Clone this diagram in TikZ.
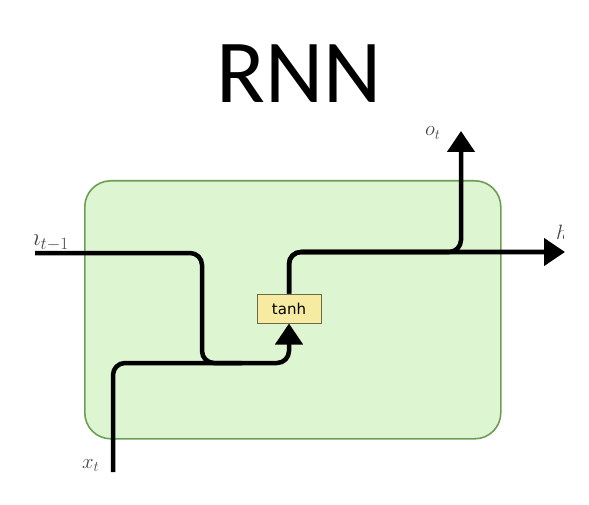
\documentclass[tikz,border=0pt]{standalone}
\usepackage{fontspec}
\setmainfont{Carlito}
\newfontfamily\tanhfont{DejaVu Sans}
\usetikzlibrary{arrows.meta}
\definecolor{cellfill}{HTML}{DDF5D0}
\definecolor{celldraw}{HTML}{6E9E55}
\definecolor{gatefill}{HTML}{F6EBA0}
\definecolor{gatedraw}{HTML}{6B6B4B}
\definecolor{labtext}{HTML}{444444}
\tikzset{
  wire/.style={line width=4.5pt, rounded corners=12pt},
  arr/.style={-{Triangle[width=27pt,length=21pt]}},
  lab/.style={inner sep=0pt, text=labtext, font=\fontsize{21}{24}\selectfont},
}
\begin{document}
\begin{tikzpicture}[x=1pt,y=-1pt]
\useasboundingbox (0,0) rectangle (589,505);
\node[draw=celldraw, fill=cellfill, line width=1.6pt, rounded corners=26pt,
      minimum width=416pt, minimum height=258pt, anchor=north west] (cell) at (84,180) {};
\node[anchor=base, inner sep=0pt, font=\fontsize{90}{90}\selectfont] (title) at (299,103) {RNN};
\node[draw=gatedraw, fill=gatefill, line width=1pt, minimum width=64pt, minimum height=29pt,
      inner sep=0pt, font=\tanhfont\fontsize{15}{18}\selectfont] (tanh) at (289,308.5) {tanh};
\coordinate (hin) at (35,253);
\coordinate (xin) at (113,472);
\coordinate (hout) at (565,252);
\coordinate (oout) at (461,131);
\coordinate (j1) at (202,363);
\coordinate (j2) at (289,363);
\coordinate (br) at (461,252);
\draw[wire] (hin) -| (j1) -- ++(40,0);
\draw[wire, arr] (xin) |- (j2) -- (tanh.south);
\draw[wire, arr] (tanh.north) |- (hout);
\draw[wire, arr] (tanh.north) |- (br) -- (oout);
\begin{scope}
\clip (34,200) rectangle (120,260);
\node[lab, anchor=base west, font=\fontsize{25}{28}\selectfont] (hprev) at (26.5,246) {$h_{t-1}$};
\end{scope}
\begin{scope}
\clip (540,200) rectangle (563,260);
\node[lab, anchor=base west] (hcur) at (556,240) {$h_t$};
\end{scope}
\node[lab, anchor=base west] (ot) at (425,136) {$o_t$};
\node[lab, anchor=base west] (xt) at (82,468) {$x_t$};
\end{tikzpicture}
\end{document}
